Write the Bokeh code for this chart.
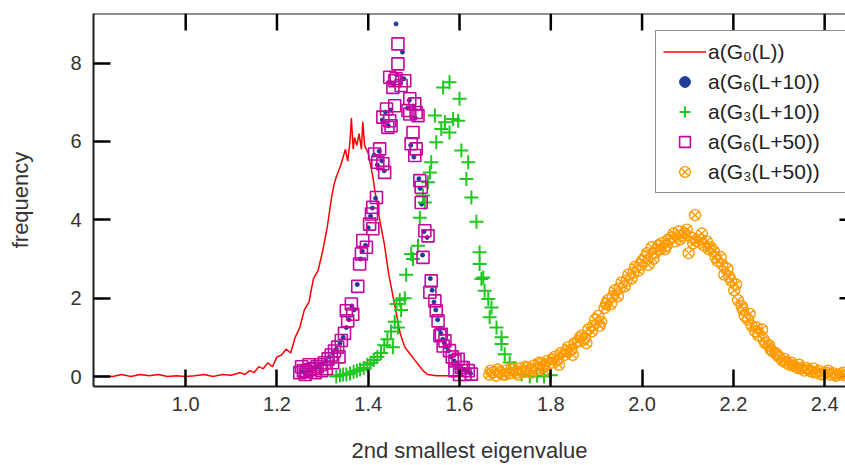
from bokeh.plotting import figure
from bokeh.models import (Range1d, FixedTicker, Legend, LegendItem,
                          PrintfTickFormatter, Span)
from bokeh.embed import file_html
from bokeh.resources import INLINE

# ---------------- data ----------------
red_x = [0.80, 0.82, 0.84, 0.86, 0.88, 0.90, 0.92, 0.94, 0.96, 0.98,
         1.00, 1.02, 1.04, 1.06, 1.08, 1.10, 1.12, 1.13, 1.14, 1.15,
         1.16, 1.17, 1.18, 1.19, 1.20, 1.21, 1.22, 1.23, 1.24, 1.25,
         1.26, 1.27, 1.28, 1.29, 1.30, 1.31, 1.32, 1.325, 1.33, 1.34,
         1.35, 1.355, 1.36, 1.363, 1.367, 1.37, 1.375, 1.38, 1.385, 1.388,
         1.392, 1.40, 1.405, 1.41, 1.415, 1.42, 1.425, 1.43, 1.435, 1.44,
         1.445, 1.45, 1.455, 1.46, 1.465, 1.47, 1.48, 1.49, 1.50, 1.51,
         1.52, 1.53, 1.55, 1.57, 1.59, 1.61]
red_y = [0.00, 0.00, 0.00, 0.05, 0.00, 0.05, 0.02, 0.05, 0.00, 0.02,
         0.00, 0.02, 0.05, 0.00, 0.05, 0.03, 0.10, 0.05, 0.15, 0.10,
         0.25, 0.20, 0.35, 0.25, 0.50, 0.55, 0.70, 0.60, 1.00, 1.25,
         1.70, 1.90, 2.50, 2.70, 3.20, 3.80, 4.60, 4.90, 5.10, 5.40,
         5.80, 5.50, 6.00, 6.60, 5.80, 6.10, 5.90, 6.20, 5.80, 6.50,
         5.90, 5.70, 5.40, 5.10, 4.70, 4.40, 4.00, 3.70, 3.40, 3.00,
         2.60, 2.30, 2.00, 1.70, 1.40, 1.10, 0.75, 0.60, 0.45, 0.30,
         0.15, 0.05, 0.02, 0.02, 0.02, 0.02]

blue_x = [1.255, 1.262, 1.270, 1.278, 1.285, 1.292, 1.300, 1.308, 1.315, 1.322,
          1.330, 1.338, 1.345, 1.352, 1.358, 1.364, 1.369, 1.376, 1.383, 1.387,
          1.394, 1.400, 1.405, 1.409, 1.413, 1.416, 1.420, 1.424, 1.430, 1.431,
          1.435, 1.438, 1.444, 1.448, 1.449, 1.455, 1.461, 1.463, 1.470, 1.475,
          1.478, 1.486, 1.490, 1.493, 1.500, 1.500, 1.503, 1.511, 1.514, 1.517,
          1.519, 1.522, 1.529, 1.536, 1.540, 1.544, 1.548, 1.552, 1.556, 1.559,
          1.563, 1.567, 1.571, 1.576, 1.582, 1.588, 1.595, 1.602, 1.610, 1.618,
          1.624]
blue_y = [0.12, 0.10, 0.15, 0.18, 0.22, 0.28, 0.33, 0.40, 0.50, 0.60,
          0.70, 0.85, 1.00, 1.25, 1.45, 1.80, 1.70, 2.35, 3.00, 3.20,
          3.35, 3.80, 4.10, 4.30, 5.65, 4.55, 5.40, 5.75, 5.50, 6.55,
          5.25, 6.75, 6.40, 7.50, 6.80, 7.45, 9.00, 7.70, 7.50, 8.28,
          7.60, 6.85, 7.05, 5.90, 6.90, 5.60, 6.60, 5.05, 4.80, 4.40,
          3.10, 3.70, 3.55, 2.50, 2.20, 1.90, 1.70, 1.45, 1.20, 1.10,
          0.95, 0.85, 0.75, 0.65, 0.50, 0.40, 0.32, 0.25, 0.18, 0.12,
          0.08]

green_x = [1.330, 1.338, 1.345, 1.352, 1.360, 1.368, 1.375, 1.382, 1.390, 1.398,
           1.405, 1.412, 1.420, 1.428, 1.435, 1.442, 1.450, 1.454, 1.458, 1.462,
           1.465, 1.469, 1.472, 1.480, 1.483, 1.494, 1.498, 1.509, 1.513, 1.520,
           1.524, 1.531, 1.535, 1.538, 1.546, 1.549, 1.560, 1.564, 1.568, 1.578,
           1.578, 1.586, 1.597, 1.600, 1.604, 1.615, 1.619, 1.626, 1.637, 1.644,
           1.644, 1.648, 1.652, 1.655, 1.663, 1.666, 1.670, 1.681, 1.692, 1.692,
           1.699, 1.710, 1.720, 1.736, 1.754, 1.770, 1.785, 1.800]
green_y = [0.00, 0.03, 0.05, 0.05, 0.08, 0.12, 0.15, 0.18, 0.22, 0.30,
           0.35, 0.42, 0.50, 0.60, 0.80, 0.95, 1.15, 0.75, 1.40, 1.85,
           1.25, 1.95, 1.70, 2.00, 2.60, 3.13, 3.00, 3.34, 4.05, 4.62,
           4.44, 4.96, 5.21, 5.47, 6.66, 5.98, 6.32, 7.38, 6.49, 7.51,
           6.23, 6.57, 6.53, 7.09, 5.77, 5.04, 5.47, 4.57, 3.95, 3.17,
           2.87, 2.49, 2.53, 2.19, 1.98, 1.51, 1.76, 1.25, 1.00, 0.83,
           0.57, 0.36, 0.20, 0.05, 0.00, 0.02, 0.00, 0.03]

mag_x = [1.250, 1.258, 1.265, 1.272, 1.280, 1.288, 1.295, 1.304, 1.312, 1.319,
         1.326, 1.333, 1.341, 1.348, 1.352, 1.355, 1.363, 1.366, 1.377, 1.381,
         1.385, 1.388, 1.396, 1.403, 1.407, 1.410, 1.410, 1.414, 1.418, 1.421,
         1.425, 1.432, 1.432, 1.436, 1.440, 1.443, 1.447, 1.447, 1.450, 1.454,
         1.458, 1.458, 1.461, 1.465, 1.465, 1.472, 1.480, 1.487, 1.491, 1.491,
         1.494, 1.498, 1.502, 1.502, 1.505, 1.505, 1.509, 1.513, 1.516, 1.516,
         1.520, 1.524, 1.531, 1.535, 1.538, 1.546, 1.549, 1.553, 1.557, 1.560,
         1.564, 1.568, 1.578, 1.584, 1.590, 1.597, 1.604, 1.608, 1.619, 1.626,
         1.254, 1.262, 1.270, 1.284, 1.298, 1.308, 1.322, 1.336, 1.590, 1.600,
         1.612]
mag_y = [0.10, 0.15, 0.12, 0.18, 0.20, 0.25, 0.30, 0.35, 0.45, 0.55,
         0.65, 0.75, 0.92, 1.10, 1.68, 1.42, 1.85, 1.59, 2.30, 2.87,
         3.13, 3.47, 3.30, 3.89, 4.15, 4.32, 3.77, 5.68, 4.57, 5.47,
         5.81, 5.43, 6.62, 5.21, 6.83, 6.36, 6.53, 7.64, 6.40, 7.38,
         7.55, 6.91, 7.60, 7.98, 8.49, 7.43, 7.55, 6.79, 7.09, 6.70,
         5.94, 6.23, 6.96, 5.64, 6.74, 5.81, 6.66, 5.00, 4.83, 4.44,
         3.04, 3.72, 3.59, 2.15, 2.44, 1.93, 1.68, 1.42, 1.04, 1.08,
         0.78, 0.91, 0.66, 0.50, 0.40, 0.44, 0.23, 0.23, 0.15, 0.06,
         0.25, 0.05, 0.30, 0.10, 0.15, 0.20, 0.35, 0.50, 0.15, 0.05,
         0.05]

orange_x = [1.665, 1.672, 1.680, 1.688, 1.695, 1.702, 1.710, 1.718, 1.725, 1.732,
            1.740, 1.748, 1.755, 1.762, 1.770, 1.778, 1.785, 1.792, 1.800, 1.808,
            1.815, 1.822, 1.830, 1.838, 1.845, 1.852, 1.860, 1.868, 1.875, 1.882,
            1.890, 1.897, 1.904, 1.910, 1.918, 1.925, 1.932, 1.940, 1.947, 1.955,
            1.962, 1.970, 1.977, 1.985, 1.992, 2.000, 2.007, 2.014, 2.021, 2.028,
            2.036, 2.043, 2.050, 2.057, 2.065, 2.072, 2.080, 2.087, 2.094, 2.102,
            2.108, 2.116, 2.120, 2.128, 2.135, 2.142, 2.150, 2.157, 2.165, 2.172,
            2.180, 2.187, 2.195, 2.202, 2.210, 2.218, 2.225, 2.232, 2.240, 2.248,
            2.255, 2.263, 2.270, 2.278, 2.285, 2.292, 2.300, 2.308, 2.316, 2.324,
            2.332, 2.340, 2.348, 2.356, 2.364, 2.372, 2.380, 2.388, 2.396, 2.404,
            2.412, 2.420, 2.428, 2.436, 2.444,
            1.668, 1.684, 1.700, 1.714, 1.728, 1.744, 1.758, 1.774, 1.788, 1.804,
            1.818, 1.834, 1.848, 1.864, 1.878, 1.893, 1.907, 1.921, 1.936, 1.951,
            1.966, 1.981, 1.996, 2.011, 2.025, 2.040, 2.054, 2.069, 2.083, 2.098,
            2.112, 2.131, 2.146, 2.161, 2.176, 2.191, 2.206, 2.221, 2.236, 2.251,
            2.266, 2.281, 2.296, 2.312, 2.328, 2.344, 2.360, 2.376, 2.392, 2.408,
            2.424, 2.440]
orange_y = [0.05, 0.10, 0.02, 0.12, 0.05, 0.15, 0.08, 0.18, 0.10, 0.20,
            0.12, 0.22, 0.15, 0.28, 0.20, 0.32, 0.25, 0.40, 0.35, 0.50,
            0.42, 0.60, 0.55, 0.75, 0.68, 0.85, 0.90, 1.05, 0.98, 1.20,
            1.15, 1.45, 1.55, 1.40, 1.75, 1.95, 1.85, 2.20, 2.05, 2.40,
            2.30, 2.60, 2.50, 2.80, 2.70, 2.95, 3.05, 2.85, 3.30, 3.15,
            3.35, 3.40, 3.25, 3.50, 3.55, 3.45, 3.70, 3.60, 3.65, 3.15,
            3.55, 4.12, 3.45, 3.50, 3.35, 3.45, 3.30, 3.20, 2.95, 3.05,
            2.60, 2.75, 2.45, 2.20, 1.95, 1.80, 1.55, 1.45, 1.30, 1.15,
            1.05, 1.20, 0.85, 0.80, 0.65, 0.60, 0.50, 0.40, 0.35, 0.30,
            0.28, 0.22, 0.20, 0.15, 0.18, 0.12, 0.10, 0.14, 0.08, 0.10,
            0.05, 0.08, 0.04, 0.06, 0.03,
            0.15, 0.18, 0.05, 0.20, 0.05, 0.25, 0.10, 0.35, 0.15, 0.45,
            0.30, 0.65, 0.55, 1.00, 0.85, 1.30, 1.30, 1.85, 2.05, 2.25,
            2.45, 2.65, 2.85, 3.15, 3.00, 3.25, 3.35, 3.65, 3.50, 3.75,
            3.40, 3.65, 3.25, 3.05, 2.85, 2.55, 2.35, 1.70, 1.60, 1.25,
            0.95, 0.70, 0.55, 0.45, 0.35, 0.30, 0.22, 0.20, 0.05, 0.15,
            0.02, 0.10]

x_ticks = [1.0, 1.2, 1.4, 1.6, 1.8, 2.0, 2.2, 2.4]
y_ticks = [0, 2, 4, 6, 8]
labels = ["a(G\u2080(L))", "a(G\u2086(L+10))", "a(G\u2083(L+10))",
          "a(G\u2086(L+50))", "a(G\u2083(L+50))"]
x_title = "2nd smallest eigenvalue"
y_title = "frequency"

# ---------------- figure ----------------
FONT = "Liberation Sans"
AX = "#1e1e1e"
TICKC = "#000000"
TXT = "#333333"
W, H = 845, 465
BL, BR, BT, BB = 93, 0, 13, 79
TICK = 17                # inward tick length, px

x_range = Range1d(0.798, 2.4457)
y_range = Range1d(-0.255, 9.266)
p = figure(width=W, height=H, output_backend="svg", toolbar_location=None,
           x_range=x_range, y_range=y_range,
           min_border_left=BL, min_border_right=BR, min_border_top=BT,
           min_border_bottom=BB)
p.outline_line_color = None
p.xgrid.visible = False
p.ygrid.visible = False
p.background_fill_color = "white"
p.border_fill_color = "white"

def style_axis(ax, ticks, fmt):
    ax.ticker = FixedTicker(ticks=ticks)
    ax.formatter = PrintfTickFormatter(format=fmt)
    ax.major_tick_in = TICK
    ax.major_tick_out = 0
    ax.minor_tick_line_color = None
    ax.major_tick_line_color = TICKC
    ax.major_tick_line_width = 2.5
    ax.axis_line_color = AX
    ax.axis_line_width = 2
    ax.major_label_text_font = FONT
    ax.major_label_text_font_size = "20px"
    ax.major_label_text_color = TXT
    ax.axis_label_text_font = FONT
    ax.axis_label_text_font_size = "22px"
    ax.axis_label_text_font_style = "normal"
    ax.axis_label_text_color = TXT

xb = p.xaxis[0]
style_axis(xb, x_ticks, "%.1f")
xb.major_label_standoff = 10
xb.axis_label = x_title
xb.axis_label_standoff = 24

yl = p.yaxis[0]
style_axis(yl, y_ticks, "%d")
yl.major_label_standoff = 12
yl.axis_label = y_title
yl.axis_label_standoff = 34

# top frame line and mirrored inward ticks (the right frame edge lies just
# outside the picture, so only the tips of the right ticks show)
x_per_px = (x_range.end - x_range.start) / (W - BL - BR)
y_per_px = (y_range.end - y_range.start) / (H - BT - BB)
p.add_layout(Span(location=y_range.end, dimension="width",
                  line_color=AX, line_width=2))
p.segment(x0=x_ticks, x1=x_ticks,
          y0=[y_range.end] * len(x_ticks),
          y1=[y_range.end - TICK * y_per_px] * len(x_ticks),
          line_color=TICKC, line_width=2.5)
p.segment(x0=[x_range.end] * len(y_ticks),
          x1=[x_range.end - 6 * x_per_px] * len(y_ticks),
          y0=y_ticks, y1=y_ticks, line_color=TICKC, line_width=2.5)

# ---------------- series ----------------
r_red = p.line(red_x, red_y, line_color="#ff0000", line_width=1.5)
r_blue = p.scatter(blue_x, blue_y, marker="circle", size=4,
                   fill_color="#1f3c96", line_color="#1f3c96")
r_green = p.scatter(green_x, green_y, marker="cross", size=14,
                    line_color="#1ec81e", line_width=2)
r_mag = p.scatter(mag_x, mag_y, marker="square", size=12, fill_color=None,
                  line_color="#c4079f", line_width=1.6)
r_orange = p.scatter(orange_x, orange_y, marker="circle_x", size=11,
                     fill_color=None, line_color="#ff9a00", line_width=1.4)

legend = Legend(items=[LegendItem(label=labels[0], renderers=[r_red]),
                       LegendItem(label=labels[1], renderers=[r_blue]),
                       LegendItem(label=labels[2], renderers=[r_green]),
                       LegendItem(label=labels[3], renderers=[r_mag]),
                       LegendItem(label=labels[4], renderers=[r_orange])],
                location=(562, 193))
legend.margin = 0
legend.padding = 7
legend.spacing = 3
legend.glyph_width = 43
legend.glyph_height = 27
legend.label_height = 27
legend.label_width = 138
legend.label_standoff = 2
legend.label_text_font = FONT
legend.label_text_font_size = "21px"
legend.label_text_color = "#222222"
legend.border_line_color = AX
legend.border_line_width = 1.5
legend.background_fill_color = "white"
legend.background_fill_alpha = 1.0
p.add_layout(legend)

open("out.html", "w").write(file_html(p, INLINE))
